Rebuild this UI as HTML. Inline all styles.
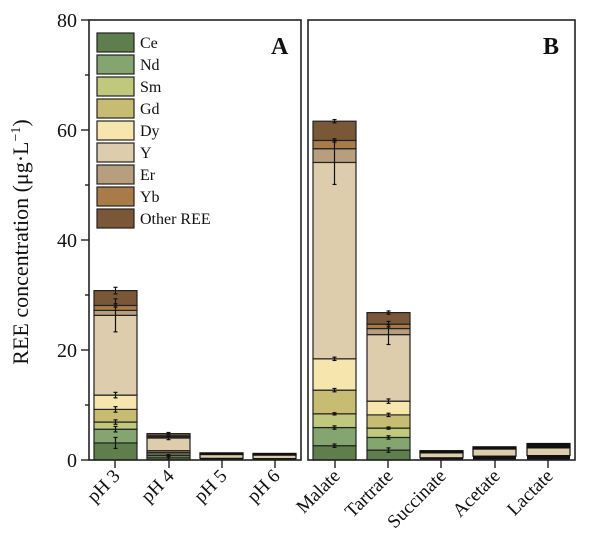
<!DOCTYPE html>
<html><head><meta charset="utf-8"><style>
body{margin:0;background:#fff}
svg{display:block;font-family:"Liberation Serif",serif}
</style></head><body>
<svg id="s" width="600" height="544" viewBox="0 0 600 544" xmlns="http://www.w3.org/2000/svg">
<g id="bars"></g>
<rect x="89" y="20" width="212" height="440" fill="none" stroke="#222" stroke-width="1.6"/>
<rect x="308" y="20" width="267" height="440" fill="none" stroke="#222" stroke-width="1.6"/>
<g stroke="#222" stroke-width="1.4">
<line x1="81" y1="460" x2="89" y2="460"/><line x1="81" y1="350" x2="89" y2="350"/><line x1="81" y1="240" x2="89" y2="240"/><line x1="81" y1="130" x2="89" y2="130"/><line x1="81" y1="20" x2="89" y2="20"/>
<line x1="85" y1="405" x2="89" y2="405"/><line x1="85" y1="295" x2="89" y2="295"/><line x1="85" y1="185" x2="89" y2="185"/><line x1="85" y1="75" x2="89" y2="75"/>
<line x1="115" y1="460" x2="115" y2="468"/><line x1="169" y1="460" x2="169" y2="468"/><line x1="222" y1="460" x2="222" y2="468"/><line x1="275" y1="460" x2="275" y2="468"/>
<line x1="335" y1="460" x2="335" y2="468"/><line x1="388" y1="460" x2="388" y2="468"/><line x1="441" y1="460" x2="441" y2="468"/><line x1="495" y1="460" x2="495" y2="468"/><line x1="548" y1="460" x2="548" y2="468"/>
</g>
<g font-size="20" text-anchor="end" fill="#111">
<text x="77" y="467">0</text><text x="77" y="357">20</text><text x="77" y="247">40</text><text x="77" y="137">60</text><text x="77" y="27">80</text>
</g>
<text transform="translate(28,242) rotate(-90)" font-size="22" text-anchor="middle" fill="#111">REE concentration (μg·L<tspan dy="-8" font-size="14">−1</tspan><tspan dy="8">)</tspan></text>
<g font-size="19" text-anchor="end" fill="#111">
<text transform="translate(121,477) rotate(-45)">pH 3</text>
<text transform="translate(175,477) rotate(-45)">pH 4</text>
<text transform="translate(228,477) rotate(-45)">pH 5</text>
<text transform="translate(281,477) rotate(-45)">pH 6</text>
<text transform="translate(341,477) rotate(-45)">Malate</text>
<text transform="translate(394,477) rotate(-45)">Tartrate</text>
<text transform="translate(447,477) rotate(-45)">Succinate</text>
<text transform="translate(501,477) rotate(-45)">Acetate</text>
<text transform="translate(554,477) rotate(-45)">Lactate</text>
</g>
<text x="271" y="54" font-size="24" font-weight="bold" fill="#111">A</text>
<text x="543" y="54" font-size="24" font-weight="bold" fill="#111">B</text>
<g id="leg" stroke="#222" stroke-width="1.2"></g>
<g font-size="16" fill="#111">
<text x="140" y="48">Ce</text><text x="140" y="70">Nd</text><text x="140" y="92">Sm</text><text x="140" y="114">Gd</text><text x="140" y="136">Dy</text><text x="140" y="158">Y</text><text x="140" y="180">Er</text><text x="140" y="202">Yb</text><text x="140" y="224">Other REE</text>
</g>
</svg>
<script>
var C=["#5e7f4c","#84a56f","#c0c87e","#c7bd72","#f6e5ac","#ddcdac","#b79e7f","#a97b48","#7a5837"];
var ns="http://www.w3.org/2000/svg";
function el(p,t,a){var e=document.createElementNS(ns,t);for(var k in a)e.setAttribute(k,a[k]);p.appendChild(e);return e;}
var leg=document.getElementById("leg");
for(var i=0;i<9;i++)el(leg,"rect",{x:97,y:33+22*i,width:37,height:19,fill:C[i]});
var B=document.getElementById("bars");
function Y(v){return 460-5.5*v;}
var data=[
[94,[3.1,5.6,6.9,9.2,11.8,26.3,27.2,28.1,30.8],[1,0.5,0.4,0.5,0.5,3,0,0.3,0.6]],
[147,[0.4,0.8,1.1,1.4,1.7,4.0,4.2,4.4,4.8],[0.3,0.2,0,0,0,0.3,0,0,0.2]],
[313,[2.6,5.9,8.4,12.7,18.4,54.1,56.6,58.1,61.6],[0.3,0.3,0.2,0.3,0.3,4,0,0.3,0.3]],
[367,[1.8,4.1,5.8,8.2,10.7,22.8,23.9,24.7,26.8],[0.4,0.3,0.2,0.3,0.4,1.8,0,0.5,0.3]]
];
data.forEach(function(d){var x=d[0],prev=0;
for(var i=0;i<9;i++){var v=d[1][i];el(B,"rect",{x:x,y:Y(v),width:43,height:(v-prev)*5.5,fill:C[i],stroke:"#222","stroke-width":1.2});prev=v;}
for(var i=0;i<9;i++){var e=d[2][i],v=d[1][i],cx=x+21.5;if(e<=0)continue;
el(B,"line",{x1:cx,y1:Y(v+e),x2:cx,y2:Y(v-e),stroke:"#111","stroke-width":1.2});
el(B,"line",{x1:cx-2,y1:Y(v+e),x2:cx+2,y2:Y(v+e),stroke:"#111","stroke-width":1.2});
el(B,"line",{x1:cx-2,y1:Y(v-e),x2:cx+2,y2:Y(v-e),stroke:"#111","stroke-width":1.2});}
});
var small=[[200,[0.3,1.0,1.3]],[253,[0.25,0.9,1.2]],[420,[0.4,1.3,1.7]],[473,[0.7,2.0,2.4]],[527,[0.8,2.2,3.0]]];
small.forEach(function(d){var x=d[0],v=d[1];
el(B,"rect",{x:x,y:Y(v[0]),width:43,height:v[0]*5.5,fill:"#111"});
el(B,"rect",{x:x,y:Y(v[1]),width:43,height:(v[1]-v[0])*5.5,fill:"#ddcdac",stroke:"#111","stroke-width":1.2});
el(B,"rect",{x:x,y:Y(v[2]),width:43,height:(v[2]-v[1])*5.5,fill:"#111",stroke:"#111","stroke-width":1.2});
});
</script>
</body></html>
